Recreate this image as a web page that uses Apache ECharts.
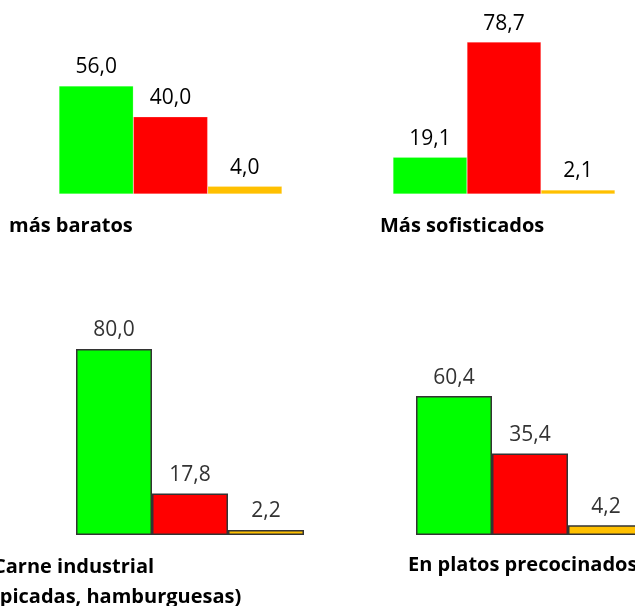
<!DOCTYPE html>
<html><head><meta charset="utf-8">
<script src="https://cdn.jsdelivr.net/npm/echarts@6/dist/echarts.min.js"></script>
<style>html,body{margin:0;padding:0;background:#fff}#c{width:635px;height:606px}</style>
</head><body><div id="c"></div>
<script>
// Panel titles (partially cut off in the original image)
const panelTitles = [
  ['más baratos'],
  ['Más sofisticados'],
  ['Carne industrial', '(picadas, hamburguesas)'],
  ['En platos precocinados']
];
const barCategories = ['verde', 'rojo', 'amarillo'];
const panel1Values = [56.0, 40.0, 4.0];
const panel2Values = [19.1, 78.7, 2.1];
const panel3Values = [80.0, 17.8, 2.2];
const panel4Values = [60.4, 35.4, 4.2];
const barColors = ['#00FF00', '#FF0000', '#FFC000'];

const allValues = [panel1Values, panel2Values, panel3Values, panel4Values];
const YMAX = 80;
const grids = [
  {left: 59, top: 194 - 80 * 1.93, width: 223, height: 80 * 1.93},
  {left: 393, top: 194 - 80 * 1.93, width: 222, height: 80 * 1.93},
  {left: 76, top: 535 - 80 * 2.325, width: 228, height: 80 * 2.325},
  {left: 416, top: 535 - 80 * 2.30, width: 228, height: 80 * 2.30}
].map(g => Object.assign({outerBoundsMode: 'none', containLabel: false}, g));
const bordered = [false, false, true, true];
const labelColors = ['#000', '#000', '#333', '#333'];

const chart = echarts.init(document.getElementById('c'));
const option = {
  animation: false,
  backgroundColor: '#fff',
  grid: grids,
  xAxis: grids.map((g, i) => ({
    type: 'category', gridIndex: i, data: barCategories,
    axisLine: {show: false}, axisTick: {show: false}, axisLabel: {show: false}
  })),
  yAxis: grids.map((g, i) => ({
    type: 'value', gridIndex: i, min: 0, max: YMAX,
    show: false, splitLine: {show: false}
  })),
  series: allValues.map((vals, i) => ({
    type: 'bar', xAxisIndex: i, yAxisIndex: i,
    barCategoryGap: 0,
    data: vals.map((v, j) => ({
      value: v,
      itemStyle: {
        color: barColors[j],
        borderColor: bordered[i] ? '#333' : 'rgba(255,255,255,0.4)',
        borderWidth: bordered[i] ? 1.5 : 0.5
      }
    })),
    label: {
      show: true, position: 'top', distance: 8,
      fontFamily: 'Open Sans', fontSize: 21, color: labelColors[i],
      formatter: p => p.value.toFixed(1).replace('.', ',')
    }
  })),
  graphic: [
    {type: 'text', x: 9, y: 216, style: {text: panelTitles[0].join('\n'), font: 'bold 20px "Open Sans"', fill: '#000'}},
    {type: 'text', x: 380, y: 216, style: {text: panelTitles[1].join('\n'), font: 'bold 20px "Open Sans"', fill: '#000'}},
    {type: 'text', x: -7, y: 552, style: {text: panelTitles[2].join('\n'), font: 'bold 20px "Open Sans"', lineHeight: 30, fill: '#000'}},
    {type: 'text', x: 408, y: 555, style: {text: panelTitles[3].join('\n'), font: 'bold 20px "Open Sans"', fill: '#000'}}
  ]
};
chart.setOption(option);
</script></body></html>
